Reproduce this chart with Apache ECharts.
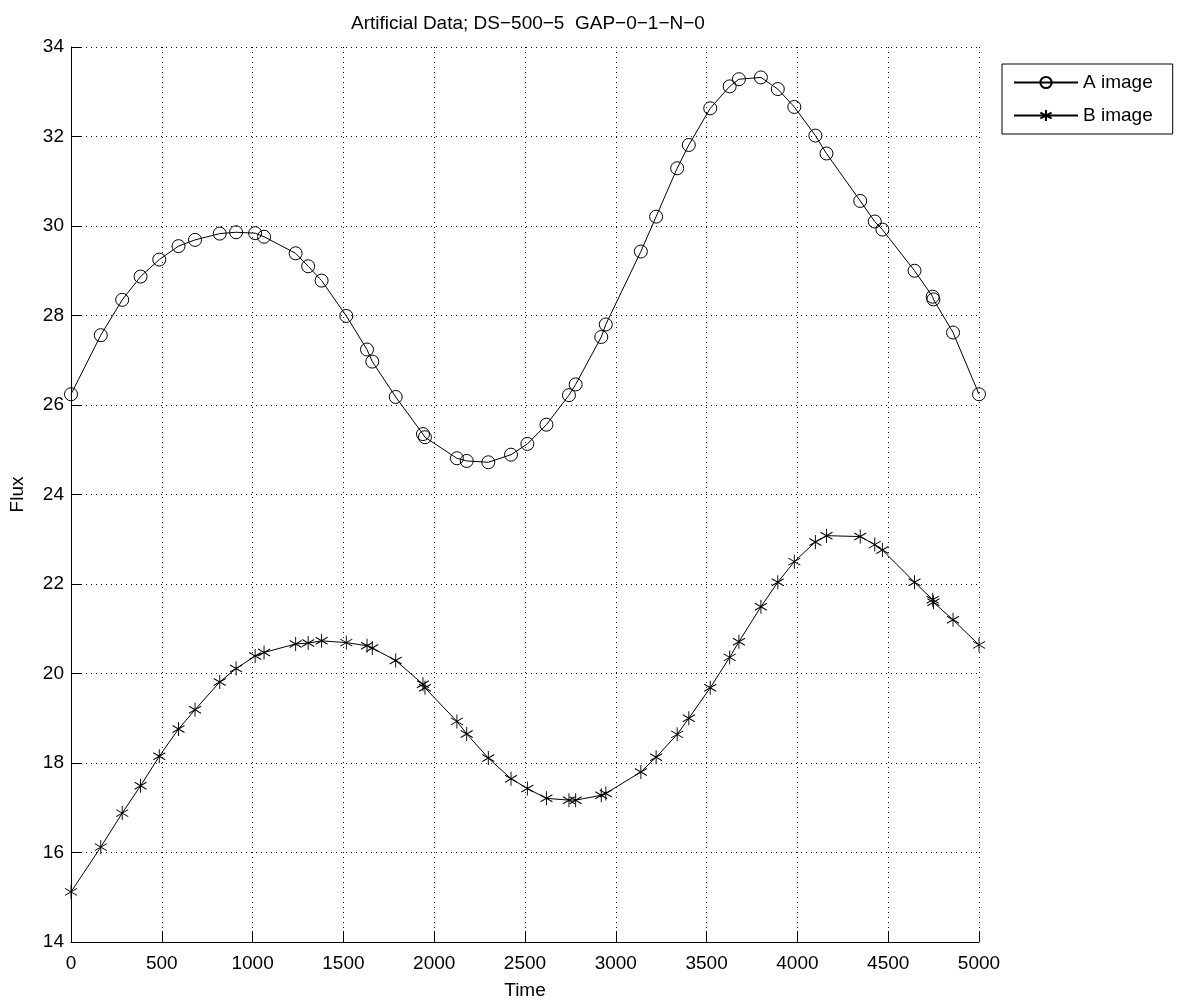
<!DOCTYPE html>
<html>
<head>
<meta charset="utf-8">
<script src="https://cdn.jsdelivr.net/npm/echarts@6/dist/echarts.min.js"></script>
<style>
  html, body { margin: 0; padding: 0; background: #fff; }
  #chart { width: 1179px; height: 1005px; }
</style>
</head>
<body>
<div id="chart"></div>
<script>
// sample times (shared by both images)
var times = [0, 164, 282, 383, 486, 592, 683, 819, 909, 1014, 1063, 1237, 1306, 1380, 1516,
  1630, 1659, 1788, 1938, 1949, 2125, 2179, 2298, 2423, 2513, 2618, 2742, 2779, 2920, 2945,
  3138, 3222, 3338, 3402, 3520, 3627, 3678, 3799, 3892, 3983, 4099, 4160, 4346, 4426, 4468,
  4645, 4745, 4749, 4857, 5000];

var fluxA = [26.24, 27.56, 28.35, 28.87, 29.25, 29.55, 29.69, 29.83, 29.86, 29.84, 29.76, 29.39, 29.10, 28.78, 27.99,
  27.24, 26.97, 26.18, 25.35, 25.28, 24.81, 24.75, 24.72, 24.89, 25.13, 25.56, 26.22, 26.46, 27.52, 27.80,
  29.43, 30.21, 31.29, 31.81, 32.63, 33.12, 33.28, 33.32, 33.06, 32.66, 32.02, 31.62, 30.56, 30.10, 29.92,
  29.00, 28.42, 28.36, 27.62, 26.24];

var fluxB = [15.12, 16.12, 16.88, 17.49, 18.15, 18.76, 19.19, 19.81, 20.11, 20.39, 20.47, 20.66, 20.68, 20.73, 20.69,
  20.62, 20.57, 20.29, 19.76, 19.68, 18.93, 18.65, 18.11, 17.65, 17.43, 17.21, 17.17, 17.17, 17.28, 17.32,
  17.80, 18.13, 18.64, 19.00, 19.68, 20.36, 20.71, 21.49, 22.04, 22.50, 22.94, 23.08, 23.06, 22.88, 22.76,
  22.04, 21.65, 21.59, 21.20, 20.64];

var seriesNames = ['A image', 'B image'];

function pairs(xs, ys) {
  return xs.map(function (x, i) { return [x, ys[i]]; });
}

var font = 'Liberation Sans, Arial, sans-serif';
var star = 'path://M0,-10L0,10M-8.66,-5L8.66,5M-8.66,5L8.66,-5';
var dotted = { color: '#000', type: [1, 4], width: 1 };

var chart = echarts.init(document.getElementById('chart'), null, { renderer: 'canvas' });

chart.setOption({
  animation: false,
  backgroundColor: '#fff',
  title: {
    text: 'Artificial Data; DS\u2212500\u22125  GAP\u22120\u22121\u2212N\u22120',
    left: 523,
    textAlign: 'center',
    top: 9,
    textStyle: { fontFamily: font, fontSize: 19, fontWeight: 'normal', color: '#000' }
  },
  legend: {
    orient: 'vertical',
    left: 1002,
    top: 64,
    padding: [9, 20, 9, 11],
    itemGap: 14,
    itemWidth: 64,
    itemHeight: 14,
    borderColor: '#000',
    borderWidth: 1,
    backgroundColor: '#fff',
    data: seriesNames,
    textStyle: { fontFamily: font, fontSize: 19, lineHeight: 18, color: '#000' }
  },
  grid: { left: 69, right: 200, top: 47, bottom: 61, containLabel: false },
  xAxis: {
    type: 'value',
    min: 0, max: 5000, interval: 500,
    name: 'Time',
    nameLocation: 'middle',
    nameGap: 39,
    nameTextStyle: { fontFamily: font, fontSize: 19, color: '#000' },
    axisLine: { lineStyle: { color: '#000', width: 1 } },
    axisTick: { inside: true, length: 11, lineStyle: { color: '#000' } },
    axisLabel: {
      fontFamily: font, fontSize: 19, color: '#000', margin: 12,
      formatter: function (v) { return String(v); }
    },
    splitLine: { show: true, lineStyle: dotted }
  },
  yAxis: {
    type: 'value',
    min: 14, max: 34, interval: 2,
    name: 'Flux',
    nameLocation: 'middle',
    nameGap: 44,
    nameTextStyle: { fontFamily: font, fontSize: 19, color: '#000' },
    axisLine: { show: true, lineStyle: { color: '#000', width: 1 } },
    axisTick: { show: true, inside: true, length: 10, lineStyle: { color: '#000' } },
    axisLabel: { fontFamily: font, fontSize: 19, color: '#000', margin: 7 },
    splitLine: { show: true, lineStyle: dotted }
  },
  series: [
    {
      name: seriesNames[0],
      type: 'line',
      data: pairs(times, fluxA),
      symbol: 'circle',
      symbolSize: 13,
      showAllSymbol: true,
      lineStyle: { color: '#000', width: 1 },
      itemStyle: { color: 'rgba(0,0,0,0)', borderColor: '#000', borderWidth: 1 }
    },
    {
      name: seriesNames[1],
      type: 'line',
      data: pairs(times, fluxB),
      symbol: star,
      symbolSize: [12, 14],
      showAllSymbol: true,
      lineStyle: { color: '#000', width: 1 },
      itemStyle: { color: 'rgba(0,0,0,0)', borderColor: '#000', borderWidth: 1 }
    }
  ]
});
</script>
</body>
</html>
